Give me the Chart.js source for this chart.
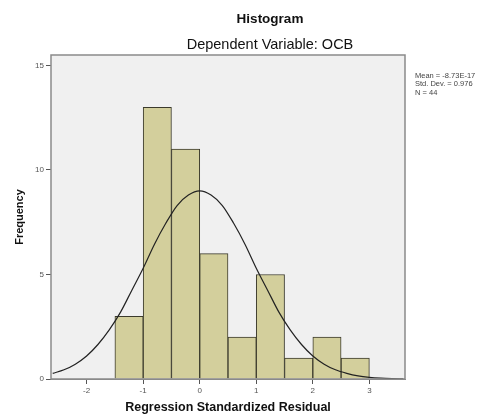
<!DOCTYPE html>
<html>
<head>
<meta charset="utf-8">
<script src="https://cdn.jsdelivr.net/npm/chart.js@4/dist/chart.umd.min.js"></script>
<style>
  html, body { margin: 0; padding: 0; background: #fff; }
  #wrap { width: 484px; height: 419px; }
</style>
</head>
<body>
<div id="wrap"><canvas id="histChart" width="484" height="419"></canvas></div>
<script>
// bin centres (bin width 0.5) and counts
const binCenters = [-1.25, -0.75, -0.25, 0.25, 0.75, 1.25, 1.75, 2.25, 2.75];
const binCounts = [3, 13, 11, 6, 2, 5, 1, 2, 1];

// normal curve
const curveX = [-2.6, -2.4, -2.2, -2.0, -1.8, -1.6, -1.4, -1.2, -1.0, -0.8, -0.6, -0.4, -0.2, 0.0,
                0.2, 0.4, 0.6, 0.8, 1.0, 1.2, 1.4, 1.6, 1.8, 2.0, 2.2, 2.4, 2.6, 2.8, 3.0, 3.2, 3.4, 3.6];
const curveY = [0.27, 0.44, 0.71, 1.1, 1.65, 2.35, 3.2, 4.25, 5.3, 6.45, 7.45, 8.3, 8.8, 9.0,
                8.8, 8.3, 7.45, 6.45, 5.3, 4.25, 3.2, 2.35, 1.65, 1.1, 0.71, 0.44, 0.27, 0.15, 0.08, 0.04, 0.02, 0.01];

const xTicks = [-2, -1, 0, 1, 2, 3];
const yTicks = [0, 5, 10, 15];
const statLines = ['Mean = -8.73E-17', 'Std. Dev. = 0.976', 'N = 44'];

const chartTitle = 'Histogram';
const chartSubtitle = 'Dependent Variable: OCB';

const bars = binCenters.map((x, i) => ({ x: x, y: binCounts[i] }));
const curve = curveX.map((x, i) => ({ x: x, y: curveY[i] }));

const frame = {
  id: 'frame',
  beforeDatasetsDraw(chart) {
    const { ctx, chartArea: a } = chart;
    ctx.save();
    ctx.fillStyle = '#f0f0f0';
    ctx.fillRect(a.left, a.top, a.right - a.left, a.bottom - a.top);
    ctx.restore();
  },
  afterDraw(chart) {
    const { ctx, chartArea: a } = chart;
    ctx.save();
    ctx.strokeStyle = '#8a8a8a';
    ctx.lineWidth = 1.5;
    ctx.strokeRect(a.left, a.top, a.right - a.left, a.bottom - a.top);

    ctx.fillStyle = '#111';
    ctx.textAlign = 'center';
    ctx.textBaseline = 'middle';
    ctx.font = 'bold 13.5px "Liberation Sans", Arial, sans-serif';
    ctx.fillText(chartTitle, 270, 19);
    ctx.font = '14.5px "Liberation Sans", Arial, sans-serif';
    ctx.fillText(chartSubtitle, 270, 45);

    ctx.textAlign = 'left';
    ctx.font = '7.5px "Liberation Sans", Arial, sans-serif';
    ctx.fillStyle = '#444';
    statLines.forEach((t, i) => ctx.fillText(t, 415, 76 + i * 8.3));
    ctx.restore();
  }
};

new Chart(document.getElementById('histChart'), {
  data: {
    datasets: [
      {
        type: 'line',
        data: curve,
        borderColor: '#222',
        borderWidth: 1.2,
        pointRadius: 0,
        cubicInterpolationMode: 'monotone',
        fill: false,
        order: 0
      },
      {
        type: 'bar',
        data: bars,
        backgroundColor: '#d3cf9c',
        borderColor: '#3b3a2c',
        borderWidth: 1,
        barPercentage: 1,
        categoryPercentage: 1,
        grouped: false,
        order: 1
      }
    ]
  },
  options: {
    responsive: false,
    animation: false,
    layout: { padding: { left: 9, right: 79, top: 55, bottom: 0 } },
    plugins: {
      legend: { display: false },
      tooltip: { enabled: false }
    },
    scales: {
      x: {
        type: 'linear',
        offset: false,
        min: -2.63,
        max: 3.63,
        afterBuildTicks: s => { s.ticks = xTicks.map(v => ({ value: v })); },
        afterFit: s => { s.height = 40; },
        grid: { offset: false, drawOnChartArea: false, tickLength: 5, color: '#555' },
        border: { color: '#8a8a8a' },
        ticks: { color: '#555', font: { size: 8 }, padding: 2, maxRotation: 0 },
        title: {
          display: true,
          text: 'Regression Standardized Residual',
          color: '#111',
          font: { size: 12.5, weight: 'bold', family: '"Liberation Sans", Arial, sans-serif' },
          padding: { top: 4 }
        }
      },
      y: {
        min: 0,
        max: 15.5,
        afterBuildTicks: s => { s.ticks = yTicks.map(v => ({ value: v })); },
        afterFit: s => { s.width = 42; },
        grid: { drawOnChartArea: false, tickLength: 5, color: '#555' },
        border: { color: '#8a8a8a' },
        ticks: { color: '#555', font: { size: 8 }, padding: 2 },
        title: {
          display: true,
          text: 'Frequency',
          color: '#111',
          font: { size: 11, weight: 'bold', family: '"Liberation Sans", Arial, sans-serif' },
          padding: { bottom: 4 }
        }
      }
    }
  },
  plugins: [frame]
});
</script>
</body>
</html>
